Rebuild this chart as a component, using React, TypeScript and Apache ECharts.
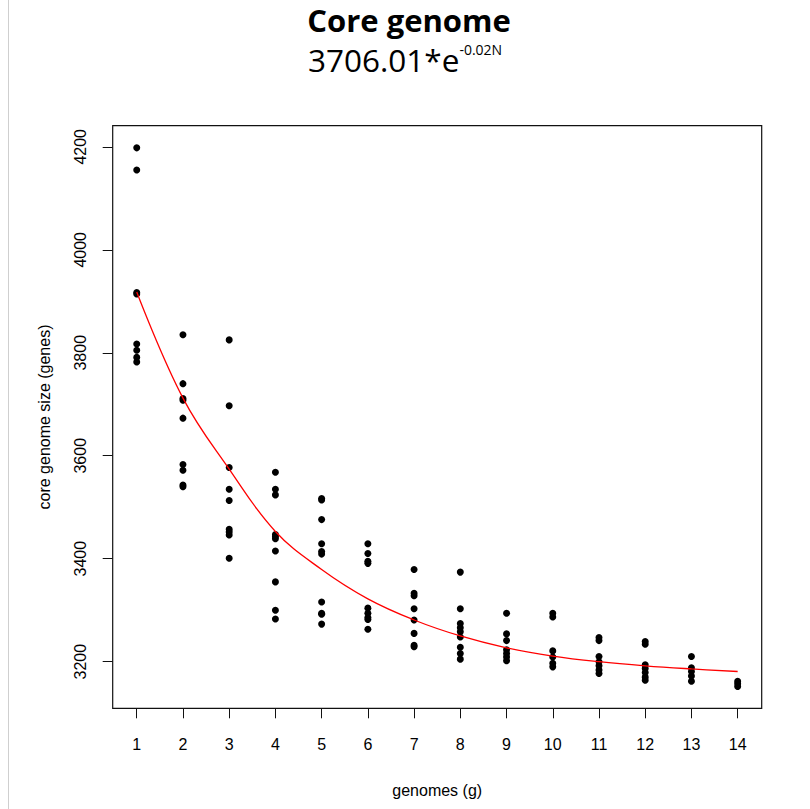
import React, { useEffect, useRef } from "react";
import * as echarts from "echarts";

const genomeCounts = [1, 2, 3, 4, 5, 6, 7, 8, 9, 10, 11, 12, 13, 14];

const size1 = [4198, 4155, 3917, 3914, 3817, 3805, 3791, 3782];
const size2 = [3835, 3740, 3711, 3708, 3673, 3583, 3572, 3543, 3540];
const size3 = [3825, 3697, 3577, 3535, 3513, 3457, 3452, 3446, 3401];
const size4 = [3568, 3535, 3524, 3447, 3443, 3439, 3415, 3355, 3300, 3283];
const size5 = [3517, 3514, 3476, 3429, 3414, 3409, 3316, 3294, 3292, 3273];
const size6 = [3429, 3410, 3395, 3391, 3304, 3294, 3286, 3282, 3263];
const size7 = [3379, 3333, 3328, 3303, 3281, 3255, 3232, 3229];
const size8 = [3374, 3303, 3274, 3266, 3258, 3248, 3228, 3216, 3205];
const size9 = [3294, 3254, 3241, 3223, 3216, 3209, 3202];
const size10 = [3294, 3287, 3221, 3209, 3197, 3190];
const size11 = [3247, 3241, 3210, 3200, 3192, 3184, 3177];
const size12 = [3239, 3234, 3194, 3187, 3179, 3170, 3164];
const size13 = [3210, 3188, 3181, 3172, 3162];
const size14 = [3162, 3157, 3152];

const fitCurve = [3918, 3712, 3574, 3453, 3379, 3322, 3281, 3250, 3227, 3211, 3200, 3192, 3186, 3181];

const yTicks = [3200, 3400, 3600, 3800, 4000, 4200];
const xTicks = genomeCounts;

const titleText = "Core genome";
const formulaMain = "3706.01*e";
const formulaExp = "-0.02N";
const xName = "genomes (g)";
const yName = "core genome size (genes)";

export default function App() {
  const ref = useRef<HTMLDivElement>(null);
  useEffect(() => {
    if (!ref.current) return;
    const chart = echarts.init(ref.current, undefined, { renderer: "svg" });
    const columns = [size1, size2, size3, size4, size5, size6, size7, size8, size9, size10, size11, size12, size13, size14];
    const points: number[][] = [];
    columns.forEach((col, i) => col.forEach((v) => points.push([genomeCounts[i], v])));
    const curve = genomeCounts.map((g, i) => [g, fitCurve[i]]);
    const labelFont = { fontFamily: "Liberation Sans", fontSize: 16, color: "#000" };

    chart.setOption({
      animation: false,
      backgroundColor: "#fff",
      grid: {
        left: 112.7,
        top: 125.7,
        right: 48.3,
        bottom: 100.7,
        show: true,
        borderColor: "#111",
        borderWidth: 1.2,
        backgroundColor: "transparent",
        outerBoundsMode: "none",
        containLabel: false,
      },
      xAxis: {
        type: "value",
        min: 0.48,
        max: 14.52,
        axisLine: { show: false },
        axisTick: {
          show: true,
          length: 10,
          customValues: xTicks,
          lineStyle: { color: "#111", width: 1 },
        },
        axisLabel: { ...labelFont, margin: 28, customValues: xTicks, formatter: (v: number) => String(v) },
        splitLine: { show: false },
        name: xName,
        nameLocation: "middle",
        nameGap: 74,
        nameTextStyle: { ...labelFont },
      },
      yAxis: {
        type: "value",
        min: 3109.5,
        max: 4241,
        axisLine: { show: false },
        axisTick: {
          show: true,
          length: 10,
          customValues: yTicks,
          lineStyle: { color: "#111", width: 1 },
        },
        axisLabel: { ...labelFont, margin: 24, rotate: 90, customValues: yTicks, formatter: (v: number) => String(v) },
        splitLine: { show: false },
        name: yName,
        nameLocation: "middle",
        nameRotate: 90,
        nameGap: 60,
        nameTextStyle: { ...labelFont },
      },
      series: [
        {
          type: "scatter",
          data: points,
          symbol: "circle",
          symbolSize: 7,
          itemStyle: { color: "#000", opacity: 1 },
          z: 3,
        },
        {
          type: "line",
          data: curve,
          smooth: 0.4,
          showSymbol: false,
          symbol: "none",
          lineStyle: { color: "#ff0000", width: 1.3 },
          z: 4,
        },
      ],
      graphic: [
        {
          type: "line",
          shape: { x1: 8.5, y1: 0, x2: 8.5, y2: 809 },
          style: { stroke: "#cfcfcf", lineWidth: 1 },
        },
        {
          type: "text",
          x: 409,
          y: 20,
          style: {
            text: titleText,
            align: "center",
            verticalAlign: "middle",
            fontFamily: "Open Sans",
            fontWeight: "bold",
            fontSize: 31,
            lineHeight: 30,
            fill: "#000",
          },
        },
        {
          type: "text",
          x: 308,
          y: 59.5,
          style: {
            text: "{m|" + formulaMain + "}{s|" + formulaExp + "}",
            align: "left",
            verticalAlign: "middle",
            fill: "#000",
            rich: {
              m: { fontFamily: "Open Sans", fontSize: 31.5, lineHeight: 34, fill: "#000" },
              s: { fontFamily: "Open Sans", fontSize: 14, lineHeight: 12, verticalAlign: "top", fill: "#000" },
            },
          },
        },
      ],
    });
    return () => chart.dispose();
  }, []);
  return (
    <div
      ref={ref}
      style={{ position: "absolute", left: 0, top: 0, width: 810, height: 809 }}
    />
  );
}
